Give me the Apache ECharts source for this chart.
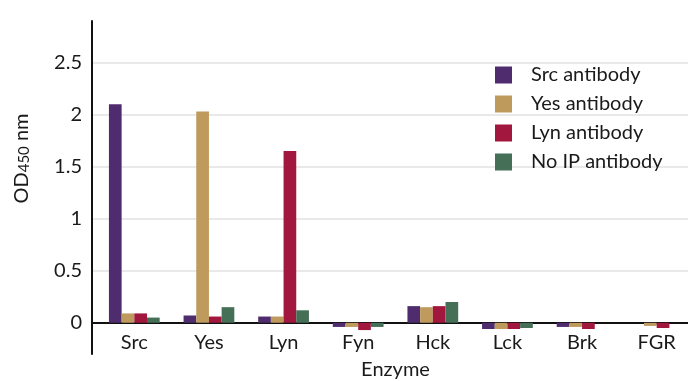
<!DOCTYPE html>
<html>
<head>
<meta charset="utf-8">
<script src="https://cdn.jsdelivr.net/npm/echarts@6/dist/echarts.min.js"></script>
<style>
  html, body { margin: 0; padding: 0; background: #fff; }
  #chart { width: 688px; height: 381px; }
</style>
</head>
<body>
<div id="chart"></div>
<script>
// Enzymes tested and OD450 readings for each immunoprecipitation antibody
const enzymes = ['Src', 'Yes', 'Lyn', 'Fyn', 'Hck', 'Lck', 'Brk', 'FGR'];
const srcAntibody  = [2.10, 0.07, 0.06, -0.04, 0.16, -0.06, -0.04, 0.00];
const yesAntibody  = [0.09, 2.03, 0.06, -0.04, 0.15, -0.06, -0.04, -0.03];
const lynAntibody  = [0.09, 0.06, 1.65, -0.07, 0.16, -0.06, -0.06, -0.05];
const noIpAntibody = [0.05, 0.15, 0.12, -0.04, 0.20, -0.05, 0.00, 0.00];

const seriesNames = ['Src antibody', 'Yes antibody', 'Lyn antibody', 'No IP antibody'];
const seriesColors = ['#4e2c6e', '#bf9a5d', '#a2173e', '#456f57'];
const seriesData = [srcAntibody, yesAntibody, lynAntibody, noIpAntibody];

const FONT = 'Lato';
const TEXT = '#1a1a1a';
const Y_MIN = -0.3, Y_MAX = 2.9;
const GRID_TOP = 21, GRID_BOTTOM = 27, CHART_H = 381;
// distance from the grid's bottom edge up to the zero baseline
const plotH = CHART_H - GRID_TOP - GRID_BOTTOM;
const zeroLift = plotH * (0 - Y_MIN) / (Y_MAX - Y_MIN);

const chart = echarts.init(document.getElementById('chart'));
chart.setOption({
  animation: false,
  textStyle: { fontFamily: FONT },
  // grid 0 carries the value axis, gridlines and the zero line;
  // grid 1 holds the bars, inset slightly from the value axis
  grid: [
    { left: 92, right: -6, top: GRID_TOP, bottom: GRID_BOTTOM, containLabel: false, outerBoundsMode: 'none' },
    { left: 97, right: -6, top: GRID_TOP, bottom: GRID_BOTTOM, containLabel: false, outerBoundsMode: 'none' }
  ],
  legend: {
    orient: 'vertical',
    left: 495,
    top: 65,
    padding: 0,
    itemWidth: 17,
    itemHeight: 17,
    itemGap: 9,
    icon: 'rect',
    textStyle: { fontFamily: FONT, fontSize: 20, color: TEXT, padding: [0, 0, 0, 14] },
    data: seriesNames
  },
  xAxis: [
    {
      gridIndex: 0, type: 'value', min: 0, max: 1,
      axisLine: { show: true, onZero: true, lineStyle: { color: '#111', width: 2 } },
      axisTick: { show: false }, axisLabel: { show: false }, splitLine: { show: false }
    },
    {
      gridIndex: 1, type: 'category', data: enzymes,
      offset: -zeroLift,
      axisLine: { show: false, onZero: false }, axisTick: { show: false },
      axisLabel: { fontFamily: FONT, fontSize: 20, color: TEXT, margin: 10 },
      name: 'Enzyme', nameLocation: 'middle', nameGap: 37,
      nameTextStyle: { fontFamily: FONT, fontSize: 20, color: TEXT }
    }
  ],
  yAxis: [
    {
      gridIndex: 0, type: 'value', min: Y_MIN, max: Y_MAX,
      axisLine: { show: true, onZero: false, lineStyle: { color: '#111', width: 2 } },
      axisTick: { show: false },
      axisLabel: {
        fontFamily: FONT, fontSize: 20, color: TEXT, margin: 10,
        formatter: function (v) {
          const r = Math.round(v * 10) / 10;
          if (r < 0 || r > 2.5 || Math.abs(r * 2 - Math.round(r * 2)) > 1e-6) return '';
          return String(r);
        }
      },
      splitLine: {
        show: true, showMinLine: false, showMaxLine: false,
        lineStyle: { color: ['#ffffff00', '#e2e2e2', '#e2e2e2', '#e2e2e2', '#e2e2e2', '#e2e2e2', '#e2e2e2', '#ffffff00'], width: 1.5 }
      },
      name: '{t|OD}{s|450}{t| nm}',
      nameLocation: 'middle', nameGap: 60, nameRotate: 90,
      nameTextStyle: {
        padding: [0, 0, 0, 58],
        rich: {
          t: { fontFamily: FONT, fontSize: 20, color: TEXT },
          s: { fontFamily: FONT, fontSize: 15, color: TEXT, verticalAlign: 'bottom', padding: [6, 0, 0, 0] }
        }
      }
    },
    {
      gridIndex: 1, type: 'value', min: Y_MIN, max: Y_MAX,
      show: false, splitLine: { show: false }
    }
  ],
  series: seriesNames.map(function (name, i) {
    return {
      name: name,
      type: 'bar',
      xAxisIndex: 1,
      yAxisIndex: 1,
      data: seriesData[i],
      barGap: '0%',
      barCategoryGap: '32%',
      itemStyle: { color: seriesColors[i] }
    };
  })
});
</script>
</body>
</html>
